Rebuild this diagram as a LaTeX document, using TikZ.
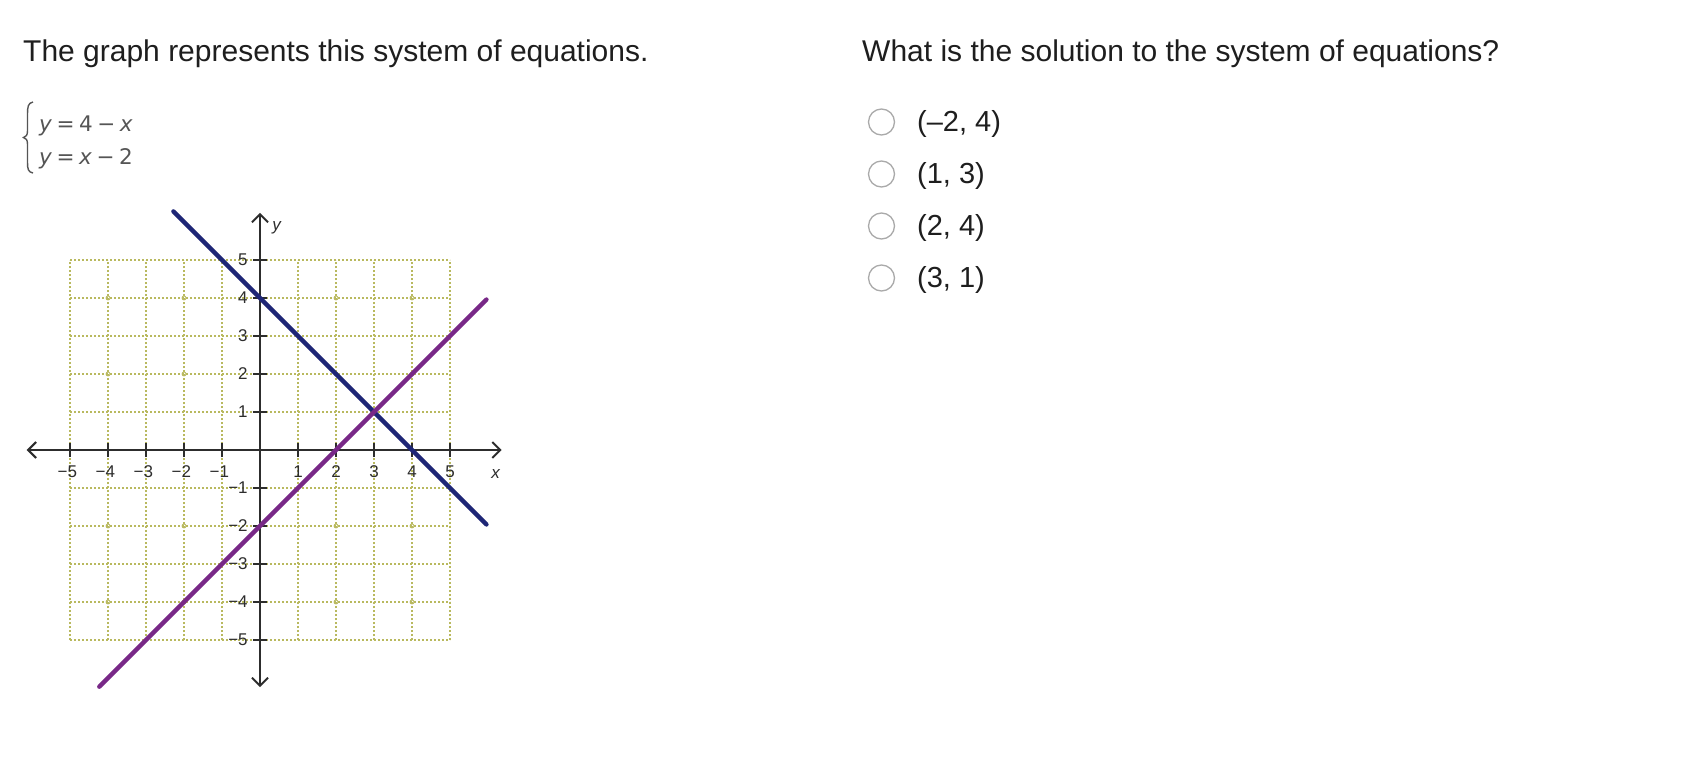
\documentclass[tikz,border=0pt]{standalone}
\usepackage{fontspec}
\setmainfont{Liberation Sans}
\newfontfamily\eqfont{DejaVu Sans}
\usetikzlibrary{arrows.meta}
\definecolor{textc}{RGB}{30,30,30}
\definecolor{eqc}{RGB}{85,85,85}
\definecolor{gridc}{RGB}{185,185,95}
\definecolor{axisc}{RGB}{45,45,45}
\definecolor{bluel}{RGB}{30,38,118}
\definecolor{purplel}{RGB}{120,40,135}
\definecolor{radioc}{RGB}{170,170,170}
\newcommand{\eqsp}{\hspace{4.5pt}}
\tikzset{
  bigtext/.style={font=\fontsize{30}{36}\selectfont, text=textc, inner sep=0pt},
  anstext/.style={font=\fontsize{29}{34}\selectfont, text=textc, inner sep=0pt, anchor=base west},
  eqtext/.style={font=\eqfont\fontsize{21.5}{25}\selectfont, text=eqc, inner sep=0pt, anchor=base west},
  radio/.style={circle, draw=radioc, line width=1.3pt, fill=white, minimum size=26pt, inner sep=0pt},
  ticklab/.style={font=\fontsize{17}{20}\selectfont, text=axisc, inner sep=0pt},
  gridline/.style={draw=gridc, line width=2pt, dash pattern=on 2pt off 2pt},
  axisline/.style={draw=axisc, line width=2pt, arrows={Straight Barb[length=8pt,width=16pt]-Straight Barb[length=8pt,width=16pt]}},
  graphline/.style={line width=4.3pt, line cap=round},
}
\begin{document}
\begin{tikzpicture}[x=1pt,y=-1pt]
\useasboundingbox[fill=white] (0,0) rectangle (1698,766);
% titles
\node[bigtext, anchor=base west] (title) at (23,61) {The graph represents this system of equations.};
\node[bigtext, anchor=base west] (question) at (862,61) {What is the solution to the system of equations?};
% equations
\draw[eqc, line width=1.4pt] (33,102) .. controls (28,103) and (27.5,107) .. (27.5,114) -- (27.5,131) .. controls (27.5,135) and (26,137) .. (23.5,137.5) .. controls (26,138) and (27.5,140) .. (27.5,144) -- (27.5,162) .. controls (27.5,169) and (28,172) .. (33,173);
\node[eqtext] (eq1) at (39,131) {\textit{y}\eqsp=\eqsp4\eqsp−\eqsp\textit{x}};
\node[eqtext] (eq2) at (39,164) {\textit{y}\eqsp=\eqsp\textit{x}\eqsp−\eqsp2};
% answers
\foreach \k/\t in {0/(–2{,} 4), 1/(1{,} 3), 2/(2{,} 4), 3/(3{,} 1)} {
  \node[radio] (r\k) at (881.5,{122+52*\k}) {};
  \node[anstext] (a\k) at (917,{131+52*\k}) {\t};
}
% graph
\begin{scope}[shift={(260,450)}, x=38pt, y=38pt]
  \foreach \i in {-5,...,5} {
    \path[gridline] (\i,-5) -- (\i,5);
    \path[gridline] (-5,\i) -- (5,\i);
  }
  \foreach \i in {-4,-2,2,4} \foreach \j in {-4,-2,2,4}
    \draw[gridc, line width=0.8pt] (\i,\j) circle (2pt);
  \coordinate (xl) at (-6.14,0);
  \coordinate (xr) at (6.36,0);
  \coordinate (yb) at (0,-6.24);
  \coordinate (yt) at (0,6.24);
  \draw[axisline] (xl) -- (xr);
  \draw[axisline] (yb) -- (yt);
  \foreach \i in {-5,...,-1,1,2,3,4,5} {
    \draw[axisc, line width=1.8pt] (\i,-0.19) -- (\i,0.19);
    \draw[axisc, line width=1.8pt] (-0.19,\i) -- (0.19,\i);
  }
  \foreach \i in {-5,...,-1} {
    \node[ticklab] (xt\i) at (\i-0.07,-0.56) {−\the\numexpr-\i\relax};
    \node[ticklab, anchor=east] (yt\i) at (-0.32,\i) {−\the\numexpr-\i\relax};
  }
  \foreach \i in {1,...,5} {
    \node[ticklab] (xt\i) at (\i,-0.56) {\i};
    \node[ticklab, anchor=east] (yt\i) at (-0.32,\i) {\i};
  }
  \node[ticklab, font=\itshape\fontsize{17}{20}\selectfont] (ylab) at (0.44,5.85) {y};
  \node[ticklab, font=\itshape\fontsize{17}{20}\selectfont] (xlab) at (6.2,-0.62) {x};
  \coordinate (b1) at (-2.28,6.28);
  \coordinate (b2) at (5.96,-1.96);
  \coordinate (p1) at (-4.23,-6.23);
  \coordinate (p2) at (5.96,3.96);
  \draw[graphline, bluel] (b1) -- (b2);
  \draw[graphline, purplel] (p1) -- (p2);
\end{scope}
\end{tikzpicture}
\end{document}
